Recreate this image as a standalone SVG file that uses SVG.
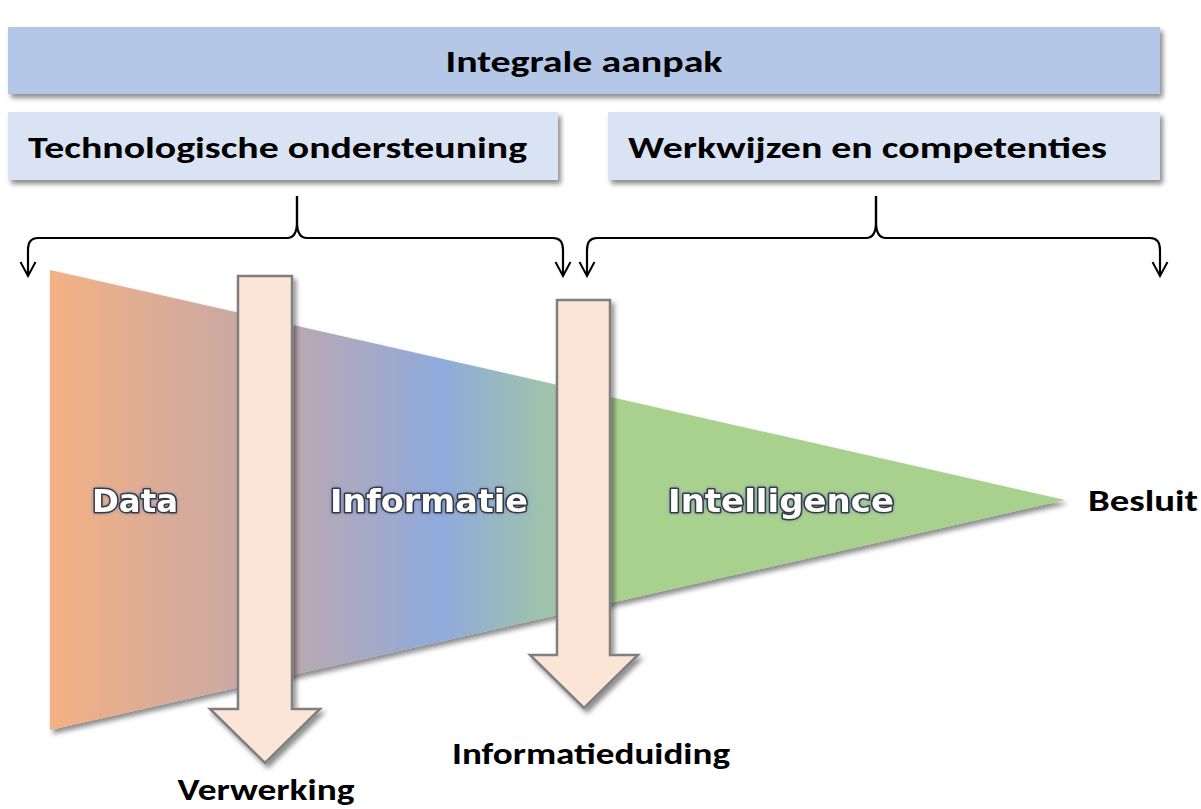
<svg xmlns="http://www.w3.org/2000/svg" width="1201" height="809" viewBox="0 0 1201 809">
<defs>
<filter id="sh" x="-5%" y="-20%" width="115%" height="150%">
<feDropShadow dx="3" dy="4" stdDeviation="2.5" flood-color="#000" flood-opacity="0.45"/>
</filter>
<filter id="glow" x="-10%" y="-30%" width="120%" height="160%">
<feDropShadow dx="0" dy="0" stdDeviation="1.5" flood-color="#4472c4" flood-opacity="0.7"/>
</filter>
<linearGradient id="fg" x1="50" y1="0" x2="1065" y2="0" gradientUnits="userSpaceOnUse">
<stop offset="0" stop-color="#f4b183"/>
<stop offset="0.2" stop-color="#c7a8a6"/>
<stop offset="0.385" stop-color="#8faadc"/>
<stop offset="0.55" stop-color="#a9d18e"/>
<stop offset="1" stop-color="#a9d18e"/>
</linearGradient>
<marker id="ah" viewBox="0 0 18 18" refX="16" refY="9" markerWidth="18" markerHeight="18" markerUnits="userSpaceOnUse" orient="auto">
<path d="M2,1.5 L16,9 L2,16.5" fill="none" stroke="#000" stroke-width="2"/>
</marker>
</defs>
<style>
.hdr{font-family:Calibri,"Carlito","Open Sans","Liberation Sans",sans-serif;font-weight:bold;font-size:30px;fill:#000}
.lbl{font-family:Calibri,"Carlito","Open Sans","Liberation Sans",sans-serif;font-weight:bold;font-size:30px;fill:#000}
.fl{font-family:"DejaVu Sans",sans-serif;font-weight:bold;font-size:32px;fill:#fff;stroke:#3a3a3a;stroke-width:3;paint-order:stroke;stroke-linejoin:round}
.brace{fill:none;stroke:#000;stroke-width:2.2;stroke-linejoin:round}
.arr{fill:#fbe5d6;stroke:#7f7f7f;stroke-width:2.5}
</style>
<rect width="1201" height="809" fill="#fff"/>

<g id="integrale-aanpak">
<rect x="8" y="27" width="1152" height="67" fill="#b4c7e7" filter="url(#sh)"/>
<text class="hdr" x="584" y="72" text-anchor="middle" textLength="277" lengthAdjust="spacingAndGlyphs">Integrale aanpak</text>
</g>
<g id="technologische-ondersteuning">
<rect x="8" y="112" width="550" height="68" fill="#dae3f3" filter="url(#sh)"/>
<text class="hdr" x="28" y="158" textLength="499" lengthAdjust="spacingAndGlyphs">Technologische ondersteuning</text>
</g>
<g id="werkwijzen-en-competenties">
<rect x="608" y="112" width="552" height="68" fill="#dae3f3" filter="url(#sh)"/>
<text class="hdr" x="628" y="158" textLength="479" lengthAdjust="spacingAndGlyphs">Werkwijzen en competenties</text>
</g>

<g id="connectors">
<path class="brace" marker-end="url(#ah)" d="M297,196 L297,222 Q297,238 287,238 L38,238 Q28,238 28,250 L28,276"/>
<path class="brace" marker-end="url(#ah)" d="M297,196 L297,222 Q297,238 307,238 L553,238 Q563,238 563,250 L563,276"/>
<path class="brace" marker-end="url(#ah)" d="M876,196 L876,222 Q876,238 866,238 L597,238 Q587,238 587,250 L587,276"/>
<path class="brace" marker-end="url(#ah)" d="M876,196 L876,222 Q876,238 886,238 L1150,238 Q1160,238 1160,250 L1160,276"/>
</g>

<g id="funnel">
<polygon points="50,270 1065,500 50,730" fill="url(#fg)" filter="url(#sh)"/>
</g>
<g id="data">
<text class="fl" x="92" y="512" textLength="86" lengthAdjust="spacingAndGlyphs" filter="url(#glow)">Data</text>
</g>
<g id="informatie">
<text class="fl" x="330" y="512" textLength="198" lengthAdjust="spacingAndGlyphs" filter="url(#glow)">Informatie</text>
</g>
<g id="intelligence">
<text class="fl" x="668" y="512" textLength="226" lengthAdjust="spacingAndGlyphs" filter="url(#glow)">Intelligence</text>
</g>
<g id="besluit">
<text class="lbl" x="1088" y="511" textLength="110" lengthAdjust="spacingAndGlyphs">Besluit</text>
</g>

<g id="verwerking">
<path class="arr" filter="url(#sh)" d="M238,276 L292,276 L292,709 L320,709 L265,763 L210,709 L238,709 Z"/>
<text class="lbl" x="266" y="800" text-anchor="middle" textLength="177" lengthAdjust="spacingAndGlyphs">Verwerking</text>
</g>
<g id="informatieduiding">
<path class="arr" filter="url(#sh)" d="M557,300 L610,300 L610,655 L638,655 L584,708 L530,655 L557,655 Z"/>
<text class="lbl" x="591" y="764" text-anchor="middle" textLength="278" lengthAdjust="spacingAndGlyphs">Informatieduiding</text>
</g>
</svg>
